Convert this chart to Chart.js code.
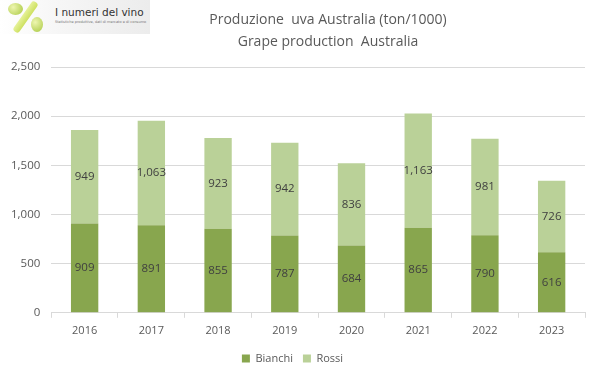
<!DOCTYPE html>
<html><head><meta charset="utf-8">
<script src="https://cdn.jsdelivr.net/npm/chart.js@4/dist/chart.umd.min.js"></script>
<style>
html,body{margin:0;padding:0;background:#fff;}
#wrap{position:relative;width:601px;height:378px;}
canvas{position:absolute;left:0;top:0;}
#logo{position:absolute;left:0;top:0;width:150px;height:34px;background:linear-gradient(90deg,#ffffff 0%,#f6f6f6 40%,#ececec 100%);font-family:"DejaVu Sans",sans-serif;}
#logo .t{position:absolute;left:55px;top:6px;font-size:10.5px;color:#333;}
#logo .s{position:absolute;left:55px;top:20px;font-size:3.5px;color:#777;white-space:nowrap;}
.g{position:absolute;border-radius:50%;background:radial-gradient(circle at 35% 35%,#eef6b0,#a8c840);}
.bar{position:absolute;left:22px;top:-1px;width:7px;height:36px;background:linear-gradient(90deg,#e6f29a,#cde060);transform:rotate(35deg);border-radius:3px;}
</style></head>
<body><div id="wrap"><canvas id="c" width="601" height="378"></canvas>
<div id="logo"><div class="g" style="left:8px;top:3px;width:15px;height:12px;"></div><div class="bar"></div><div class="g" style="left:31px;top:17px;width:12px;height:15px;"></div><div class="t">I numeri del vino</div><div class="s">Statistiche produttive, dati di mercato e di consumo</div></div>
</div>
<script>
const categories = ["2016","2017","2018","2019","2020","2021","2022","2023"];
const bianchi = [909, 891, 855, 787, 684, 865, 790, 616];
const rossi = [949, 1063, 923, 942, 836, 1163, 981, 726];
const titleLines = ["Produzione  uva Australia (ton/1000)", "Grape production  Australia"];

const FONT = '"Open Sans", sans-serif';

const labelPlugin = {
  id: 'segLabels',
  afterDatasetsDraw(chart) {
    const ctx = chart.ctx;
    ctx.save();
    ctx.font = '11.5px ' + FONT;
    ctx.fillStyle = '#404040';
    ctx.textAlign = 'center';
    ctx.textBaseline = 'middle';
    chart.data.datasets.forEach((ds, i) => {
      const meta = chart.getDatasetMeta(i);
      meta.data.forEach((bar, j) => {
        const v = ds.data[j];
        const mid = (bar.y + bar.base) / 2;
        ctx.fillText(v.toLocaleString('en-US'), bar.x, mid);
      });
    });
    ctx.restore();
  }
};

const titlePlugin = {
  id: 'offsetTitle',
  afterDraw(chart) {
    const ctx = chart.ctx;
    ctx.save();
    ctx.font = '14px ' + FONT;
    ctx.fillStyle = '#595959';
    ctx.textAlign = 'center';
    ctx.textBaseline = 'middle';
    titleLines.forEach((t, i) => ctx.fillText(t, 328, 20 + i * 22));
    ctx.restore();
  }
};

new Chart(document.getElementById('c'), {
  type: 'bar',
  data: {
    labels: categories,
    datasets: [
      {label: 'Bianchi', data: bianchi, backgroundColor: '#88a64e', barPercentage: 0.41, categoryPercentage: 1},
      {label: 'Rossi', data: rossi, backgroundColor: '#bad198', barPercentage: 0.41, categoryPercentage: 1}
    ]
  },
  options: {
    responsive: false,
    animation: false,
    devicePixelRatio: 1,
    layout: {padding: {left: 0, right: 16, top: 0, bottom: 4}},
    plugins: {
      title: {display: true, text: titleLines, color: 'rgba(0,0,0,0)',
        font: {family: FONT, size: 14, weight: 'normal', lineHeight: 22/14},
        padding: {top: 9, bottom: 14}},
      legend: {position: 'bottom', labels: {color: '#595959', boxWidth: 8, boxHeight: 8,
        font: {family: FONT, size: 11}, padding: 10}},
      tooltip: {enabled: false}
    },
    scales: {
      x: {stacked: true,
        grid: {display: true, drawOnChartArea: false, drawTicks: true, tickLength: 5, color: '#d9d9d9', offset: true},
        border: {display: true, color: '#d9d9d9'},
        ticks: {color: '#595959', font: {family: FONT, size: 11}, padding: 6}},
      y: {stacked: true, min: 0, max: 2500,
        grid: {color: '#d9d9d9', drawTicks: false},
        border: {display: false},
        ticks: {stepSize: 500, color: '#595959', padding: 11,
          font: {family: FONT, size: 11.5}}}
    }
  },
  plugins: [labelPlugin, titlePlugin]
});
</script></body></html>
